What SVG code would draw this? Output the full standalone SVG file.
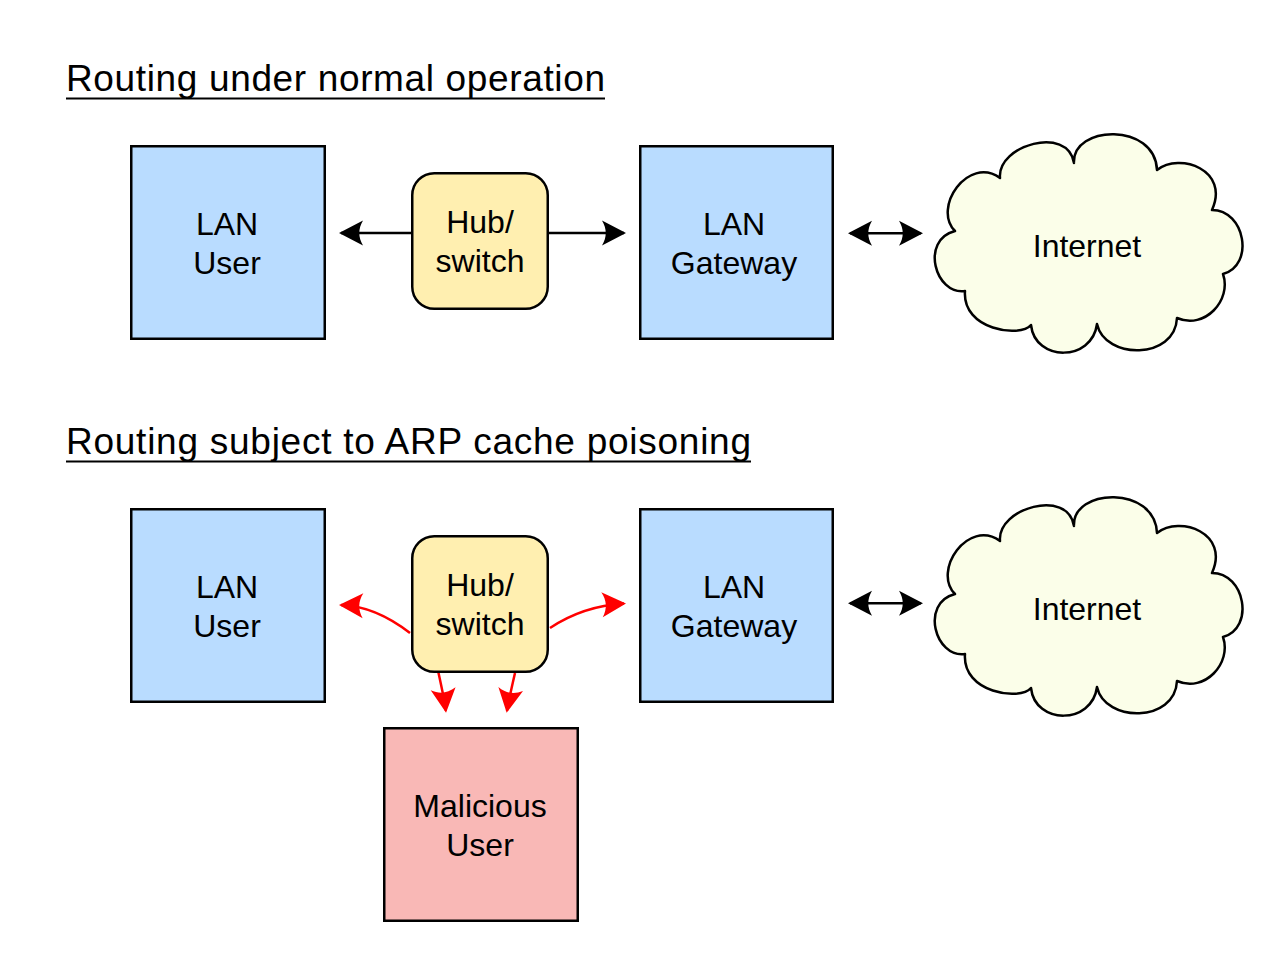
<svg xmlns="http://www.w3.org/2000/svg" width="1280" height="978" viewBox="0 0 1280 978">
<style>
text{font-family:"Liberation Sans",Arial,sans-serif;fill:#000}
.title{font-size:37px}
.lbl{font-size:32px;text-anchor:middle}
.box{stroke:#000;stroke-width:2.5}
.blue{fill:#b9dcff}
.hub{fill:#ffefb0}
.mal{fill:#f9b8b6}
.cloud{fill:#fbfee9;stroke:#000;stroke-width:2.5;stroke-linejoin:round}
.ul{stroke:#000;stroke-width:2.2}
.blk{fill:none;stroke:#000;stroke-width:2.5}
.red{fill:none;stroke:#ff0000;stroke-width:2.5}
</style>
<defs>
<marker id="ab" markerUnits="userSpaceOnUse" orient="auto-start-reverse" overflow="visible" markerWidth="35" markerHeight="30" viewBox="-30 -15 35 30" refX="0" refY="0">
<path d="M2,0 L-22,-12.5 C-17,-4 -17,4 -22,12.5 Z" fill="#000"/>
</marker>
<marker id="ar" markerUnits="userSpaceOnUse" orient="auto-start-reverse" overflow="visible" markerWidth="35" markerHeight="30" viewBox="-30 -15 35 30" refX="0" refY="0">
<path d="M2,0 L-22,-12.5 C-17,-4 -17,4 -22,12.5 Z" fill="#ff0000"/>
</marker>
<path id="cloudShape" d="M1000,178 C997,145 1068,125 1074,163 C1072,125 1155,122 1157,170 C1180,152 1230,170 1212,210 C1245,210 1255,265 1223,274 C1232,300 1205,330 1177,318 C1175,360 1105,360 1097,324 C1092,362 1035,362 1031,325 C1020,338 962,330 965,291 C935,295 920,240 955,231 C932,208 968,155 1000,178 Z"/>
</defs>

<g id="title1">
<text class="title" x="66" y="91" textLength="539" lengthAdjust="spacing">Routing under normal operation</text>
<line class="ul" x1="66" y1="98.5" x2="605" y2="98.5"/>
</g>
<g id="title2">
<text class="title" x="66" y="454" textLength="685" lengthAdjust="spacing">Routing subject to ARP cache poisoning</text>
<line class="ul" x1="66" y1="461.5" x2="751" y2="461.5"/>
</g>

<g id="connectors">
<path class="blk" d="M411,233 L341,233" marker-end="url(#ab)"/>
<path class="blk" d="M549,233 L624,233" marker-end="url(#ab)"/>
<path class="blk" d="M850,233.3 L921,233.3" marker-start="url(#ab)" marker-end="url(#ab)"/>
<path class="blk" d="M850,603.3 L921,603.3" marker-start="url(#ab)" marker-end="url(#ab)"/>
<path class="red" d="M410,633 Q375,606 341,605" marker-end="url(#ar)"/>
<path class="red" d="M550,628 Q583,606 624,603.5" marker-end="url(#ar)"/>
<path class="red" d="M438.3,672 Q444.5,700 445.8,710.7" marker-end="url(#ar)"/>
<path class="red" d="M515,673 Q509,699 507,710.7" marker-end="url(#ar)"/>
</g>

<g id="lan-user-1">
<rect class="box blue" x="131.25" y="146.25" width="193.5" height="192.5"/>
<text class="lbl" x="227" y="234.5">LAN</text>
<text class="lbl" x="227" y="273.5">User</text>
</g>
<g id="hub-1">
<rect class="box hub" x="412.25" y="173.25" width="135.5" height="135.5" rx="22"/>
<text class="lbl" x="480" y="232.7">Hub/</text>
<text class="lbl" x="480" y="271.7">switch</text>
</g>
<g id="gateway-1">
<rect class="box blue" x="640.25" y="146.25" width="192.5" height="192.5"/>
<text class="lbl" x="734" y="234.5">LAN</text>
<text class="lbl" x="734" y="273.5">Gateway</text>
</g>
<g id="internet-1">
<use href="#cloudShape" class="cloud"/>
<text class="lbl" x="1087" y="256.7">Internet</text>
</g>

<g id="lan-user-2">
<rect class="box blue" x="131.25" y="509.25" width="193.5" height="192.5"/>
<text class="lbl" x="227" y="597.5">LAN</text>
<text class="lbl" x="227" y="636.5">User</text>
</g>
<g id="hub-2">
<rect class="box hub" x="412.25" y="536.25" width="135.5" height="135.5" rx="22"/>
<text class="lbl" x="480" y="595.7">Hub/</text>
<text class="lbl" x="480" y="634.7">switch</text>
</g>
<g id="gateway-2">
<rect class="box blue" x="640.25" y="509.25" width="192.5" height="192.5"/>
<text class="lbl" x="734" y="597.5">LAN</text>
<text class="lbl" x="734" y="636.5">Gateway</text>
</g>
<g id="internet-2">
<use href="#cloudShape" class="cloud" transform="translate(0,363)"/>
<text class="lbl" x="1087" y="619.7">Internet</text>
</g>
<g id="malicious-user">
<rect class="box mal" x="384.25" y="728.25" width="193.5" height="192.5"/>
<text class="lbl" x="480" y="816.7">Malicious</text>
<text class="lbl" x="480" y="855.5">User</text>
</g>
</svg>
